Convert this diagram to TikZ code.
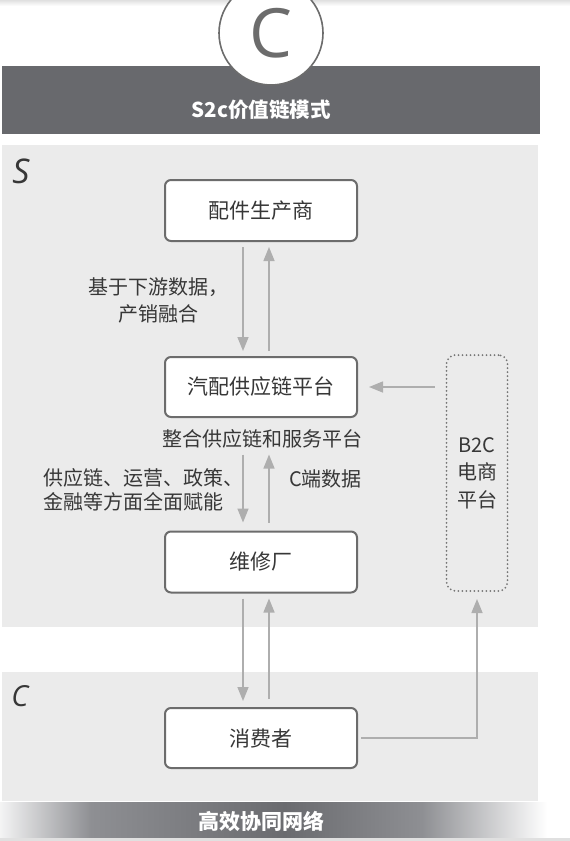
\documentclass[tikz,border=0pt]{standalone}
\usepackage{fontspec}
\setmainfont{Noto Sans CJK SC}
\newfontfamily\latinfont{Open Sans}
\definecolor{S2cBanner}{RGB}{104,105,109}
\definecolor{S2cPanel}{RGB}{235,235,235}
\definecolor{S2cBorder}{RGB}{108,108,108}
\definecolor{S2cArrow}{RGB}{174,174,174}
\definecolor{S2cText}{RGB}{55,55,55}
\definecolor{S2cDot}{RGB}{118,118,118}
\definecolor{S2cBandMid}{RGB}{142,143,147}
\definecolor{S2cBandDark}{RGB}{106,107,111}
\usepackage{tikz}
\usetikzlibrary{
    arrows.meta,
    positioning,
    calc,
}
\pgfdeclarehorizontalshading{bandshade}{100bp}{color(0bp)=(white); color(25bp)=(white!90!S2cBandMid); color(33bp)=(S2cBandMid); color(50bp)=(S2cBandDark); color(62bp)=(S2cBandMid); color(73bp)=(white); color(100bp)=(white)}

\begin{document}
\begin{tikzpicture}[
    x=1pt, y=-1pt,
    box/.style={rectangle, rounded corners=6pt, draw=S2cBorder, line width=2pt, fill=white, minimum width=192pt, minimum height=61pt, text=S2cText, font=\fontsize{21}{24}\selectfont},
    lbl/.style={text=S2cText, font=\fontsize{20}{#1}\selectfont, inner sep=0pt},
    arr/.style={-{Triangle[length=14pt, width=11pt]}, S2cArrow, line width=1.5pt},
    tag/.style={text=S2cText, font=\latinfont\itshape\fontsize{#1}{#1}\selectfont, inner sep=0pt}
]
    \useasboundingbox (0,0) rectangle (570,841);
    \shade[top color=black!12, bottom color=white] (0,0) rectangle (570,6);

    \fill[S2cBanner] (2,66) rectangle (540,134);
    \node[circle, draw=S2cBorder, line width=1.6pt, fill=white, minimum size=104pt, inner sep=0pt,
          text=S2cBorder, font=\latinfont\fontsize{68}{68}\selectfont] (logo) at (271,33) {C};
    \node[text=white, font=\bfseries\fontsize{20.5}{24}\selectfont] (title) at (261,110) {S2c价值链模式};

    \fill[S2cPanel] (2,145) rectangle (538,627);
    \fill[S2cPanel] (2,672) rectangle (538,801);
    \node[tag=34] (stag) at (21,171) {S};
    \node[tag=29] (ctag) at (20,696) {C};

    \node[box]                   (supplier) at (261,210.5) {配件生产商};
    \node[box, minimum height=60pt] (platform) at (261,387) {汽配供应链平台};
    \node[lbl=24]                (platsub)  at (262,439) {整合供应链和服务平台};
    \node[box]                   (garage)   at (261,562) {维修厂};
    \node[box, minimum height=60pt] (consumer) at (261,738) {消费者};
    \node[rectangle, rounded corners=9pt, draw=S2cDot, line width=2pt, dash pattern=on 0pt off 4pt, line cap=round,
          minimum width=61pt, minimum height=236pt, align=center, text=S2cText,
          font=\fontsize{20}{27.5}\selectfont] (b2c) at (477,473) {B2C\\电商\\平台};

    \node[lbl=27, align=center] (datalbl)   at (158,300) {基于下游数据，\\产销融合};
    \node[lbl=24, align=left, anchor=west] (enablelbl) at (43,490) {供应链、运营、政策、\\金融等方面全面赋能};
    \node[lbl=24, anchor=west]  (cdata)     at (289,479) {C端数据};

    \draw[arr, shorten <=5pt, shorten >=5pt] ([xshift=-18pt]supplier.south) -- ([xshift=-18pt]platform.north);
    \draw[arr, shorten <=5pt, shorten >=5pt] ([xshift=8pt]platform.north) -- ([xshift=8pt]supplier.south);
    \draw[arr, shorten <=6pt, shorten >=8pt] ([xshift=-18pt]garage.north |- platsub.south) -- ([xshift=-18pt]garage.north);
    \draw[arr, shorten <=8pt, shorten >=6pt] ([xshift=8pt]garage.north) -- ([xshift=8pt]garage.north |- platsub.south);
    \draw[arr, shorten <=5pt, shorten >=6pt] ([xshift=-18pt]garage.south) -- ([xshift=-18pt]consumer.north);
    \draw[arr, shorten <=8pt, shorten >=5pt] ([xshift=8pt]consumer.north) -- ([xshift=8pt]garage.south);
    \draw[arr, shorten <=11pt, shorten >=11pt] (b2c.west |- platform.east) -- (platform.east);
    \draw[arr, shorten <=3pt, shorten >=7pt] (consumer.east) -| (b2c.south);

    \shade[shading=bandshade] (0,802) rectangle (570,838);
    \fill[black!12] (0,838) rectangle (570,841);
    \node[text=white, font=\bfseries\fontsize{21}{24}\selectfont] (footer) at (261,821) {高效协同网络};
\end{tikzpicture}
\end{document}
